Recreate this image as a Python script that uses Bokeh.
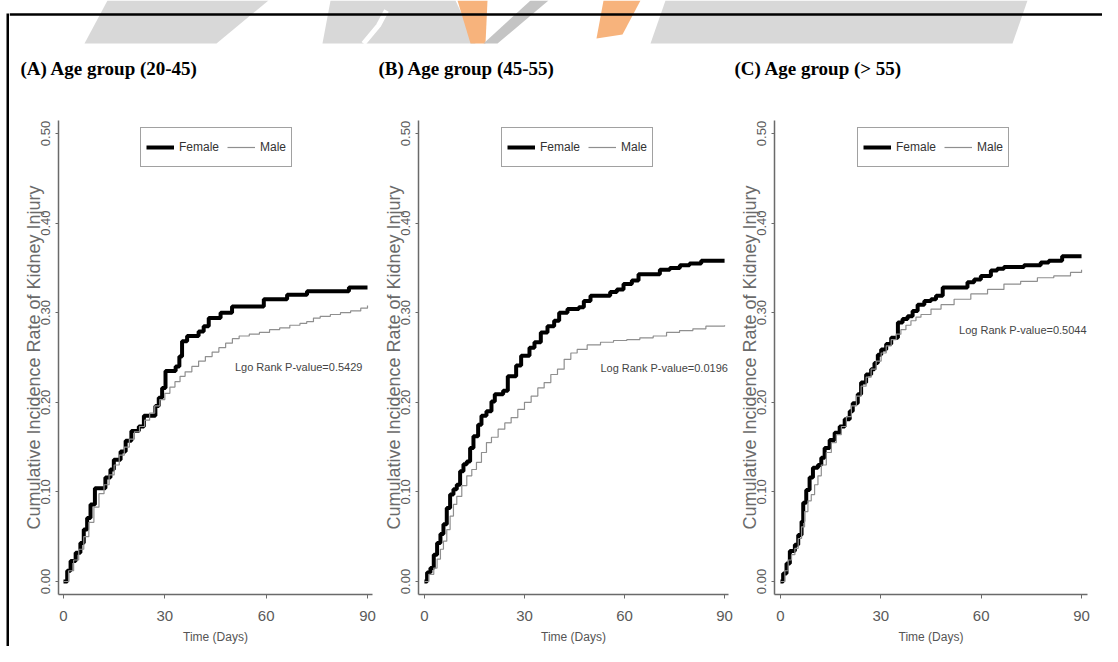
from bokeh.plotting import figure
from bokeh.layouts import row, column
from bokeh.models import (Range1d, FixedTicker, Legend, LegendItem,
                          NumeralTickFormatter, Label, Spacer)
from bokeh.core.properties import value
from bokeh.embed import file_html
from bokeh.resources import INLINE

# ---------------- data ----------------
titles = ["(A) Age group (20-45)", "(B) Age group (45-55)", "(C) Age group (> 55)"]
pvalue_labels = ["Lgo Rank P-value=0.5429", "Log Rank P-value=0.0196",
                 "Log Rank P-value=0.5044"]
series_names = ["Female", "Male"]
x_label = "Time (Days)"
y_label = "Cumulative Incidence Rate of Kidney Injury"
x_ticks = [0, 30, 60, 90]
y_ticks = [0.0, 0.1, 0.2, 0.3, 0.4, 0.5]

a_female_days = [0, 1.1, 2.1, 3.6, 5.0, 6.0, 7.0, 8.0, 9.3, 12.4,
                 13.9, 14.9, 16.9, 18.4, 20.1, 22.3, 23.8, 27.2, 28.2, 29.2,
                 30.2, 33.2, 34.3, 35.1, 36.6, 40.0, 41.5, 43.0, 46.5, 49.9,
                 59.3, 66.2, 72.1, 84.5, 90]
a_female_vals = [0, .012, .023, .032, .043, .058, .071, .086, .104, .116,
                 .125, .136, .145, .157, .168, .173, .185, .196, .205, .216,
                 .235, .240, .251, .268, .274, .279, .285, .294, .300, .307,
                 .315, .320, .324, .328, .328]
a_male_days = [0, 1.5, 3, 4.5, 6, 7.5, 9, 10.5, 12, 13.5,
               15, 16.5, 18, 19.5, 21, 22.5, 24, 25.5, 27, 28.5,
               30, 31.5, 33, 34.5, 36, 38, 40, 42, 44, 46,
               48, 50, 52, 55, 58, 61, 64, 67, 70, 72,
               74, 76, 79, 82, 85, 88, 90]
a_male_vals = [0, .012, .024, .036, .05, .066, .083, .098, .108, .119,
               .13, .141, .15, .159, .167, .173, .18, .188, .196, .203,
               .21, .217, .223, .229, .234, .24, .246, .251, .256, .261,
               .266, .271, .274, .276, .278, .281, .283, .286, .288, .29,
               .294, .296, .298, .3, .302, .305, .308]

b_female_days = [0, 0.8, 1.8, 2.8, 3.8, 4.8, 5.7, 6.7, 7.7, 8.7,
                 9.7, 10.7, 11.7, 12.7, 13.7, 14.7, 16.1, 17.1, 18.6, 20.1,
                 21.1, 23.6, 25.0, 27.5, 29.0, 31.5, 33.0, 34.9, 36.9, 38.9,
                 40.4, 42.9, 46.3, 47.8, 49.8, 55.7, 57.7, 59.7, 62.2, 64.2,
                 70.6, 73.6, 76.6, 79.5, 83.0, 90]
b_female_vals = [0, .010, .015, .030, .043, .053, .064, .082, .097, .103,
                 .108, .123, .131, .134, .149, .162, .175, .185, .190, .201,
                 .209, .213, .229, .241, .252, .261, .267, .278, .285, .291,
                 .300, .304, .306, .313, .319, .323, .326, .332, .336, .343,
                 .348, .350, .353, .355, .358, .358]
b_male_days = [0, 1.3, 2.8, 3.8, 4.8, 5.7, 6.7, 7.7, 8.7, 9.7,
               11.2, 12.7, 14.2, 15.6, 17.1, 18.6, 20.1, 22.1, 24.1, 26.0,
               28.0, 30.0, 32.0, 34.0, 35.9, 37.9, 39.9, 41.9, 43.9, 45.8,
               48.8, 52.8, 56.7, 60.7, 64.6, 68.6, 72.6, 76.5, 80.5, 84.4, 90]
b_male_vals = [0, .008, .015, .025, .036, .045, .058, .073, .086, .095,
               .107, .118, .125, .133, .144, .155, .161, .170, .177, .183,
               .192, .200, .207, .216, .222, .231, .237, .248, .255, .259,
               .264, .267, .269, .270, .272, .274, .278, .280, .282, .285, .286]

c_female_days = [0, 0.8, 1.8, 2.8, 4.3, 5.3, 6.3, 6.8, 7.7, 8.7,
                 9.7, 11.2, 12.2, 13.2, 14.7, 16.2, 17.7, 19.2, 20.7, 21.6,
                 23.1, 24.1, 25.6, 27.1, 28.1, 29.1, 30.1, 31.6, 33.1, 35.1,
                 36.5, 38.0, 39.5, 41.0, 43.0, 45.0, 46.5, 48.5, 55.9, 57.9,
                 59.9, 62.9, 64.8, 66.8, 72.8, 77.8, 80.2, 84.2, 90]
c_female_vals = [0, .009, .020, .034, .041, .052, .067, .088, .102, .116,
                 .127, .130, .138, .149, .158, .166, .173, .181, .190, .199,
                 .209, .222, .231, .237, .244, .253, .259, .265, .272, .289,
                 .293, .296, .302, .309, .313, .315, .319, .328, .334, .337,
                 .341, .347, .349, .351, .353, .356, .358, .363, .363]
c_male_days = [0, 1.3, 2.3, 3.3, 4.3, 5.3, 6.3, 7.2, 8.2, 9.2,
               10.2, 11.2, 12.2, 13.7, 15.2, 16.7, 18.2, 19.7, 21.2, 22.7,
               24.1, 25.6, 27.1, 28.6, 30.1, 31.6, 33.1, 34.6, 36.0, 37.5,
               39.0, 40.5, 42.0, 45.0, 48.0, 51.9, 56.9, 61.9, 66.8, 71.8,
               76.8, 81.7, 86.7, 90]
c_male_vals = [0, .012, .024, .030, .037, .048, .061, .078, .090, .097,
               .108, .118, .130, .144, .155, .164, .173, .184, .196, .207,
               .218, .228, .237, .246, .255, .263, .270, .276, .281, .286,
               .291, .295, .298, .304, .309, .315, .321, .326, .332, .335,
               .339, .341, .345, .348]

# ---------------- styling helpers ----------------
SANS = "Liberation Sans"
PANEL_H = 546


def make_panel(width, bl, br, xr, fd, fv, md, mv, ptext, px, py, lx):
    p = figure(width=width, height=PANEL_H, x_range=Range1d(*xr),
               y_range=Range1d(-0.0145, 0.5145), output_backend="svg",
               toolbar_location=None, min_border_left=bl, min_border_right=br,
               min_border_top=20, min_border_bottom=51)
    p.xgrid.visible = False
    p.ygrid.visible = False
    p.outline_line_color = None
    p.background_fill_color = "white"
    p.border_fill_color = "white"

    fem = p.step(fd, fv, mode="after", line_width=4, line_color="black")
    mal = p.step(md, mv, mode="after", line_width=1.2, line_color="#8f8f8f")

    for ax in (p.xaxis[0], p.yaxis[0]):
        ax.axis_line_color = "#6a6a6a"
        ax.axis_line_width = 1.5
        ax.major_tick_line_color = "#6a6a6a"
        ax.minor_tick_line_color = None
        ax.major_tick_in = 0
        ax.major_label_text_font = SANS
        ax.axis_label_text_font = SANS
        ax.axis_label_text_font_style = "normal"
        ax.major_label_text_color = "#5a5a5a"
        ax.axis_label_text_color = "#555555"

    xa = p.xaxis[0]
    xa.ticker = FixedTicker(ticks=x_ticks)
    xa.major_tick_out = 4
    xa.major_label_standoff = 12
    xa.major_label_text_font_size = "15px"
    xa.axis_label = x_label
    xa.axis_label_text_font_size = "12px"
    xa.axis_label_standoff = 6

    ya = p.yaxis[0]
    ya.ticker = FixedTicker(ticks=y_ticks)
    ya.formatter = NumeralTickFormatter(format="0.00")
    ya.major_label_orientation = "vertical"
    ya.major_label_text_font_size = "13px"
    ya.major_tick_out = 3
    ya.major_label_standoff = 5
    ya.axis_label = y_label
    ya.axis_label_text_font_size = "18px"
    ya.axis_label_standoff = -5
    ya.axis_label_text_color = "#6a6a6a"

    legend = Legend(items=[LegendItem(label=series_names[0], renderers=[fem]),
                           LegendItem(label=series_names[1], renderers=[mal])],
                    location=(lx, 427), orientation="horizontal",
                    glyph_width=28, glyph_height=20, label_height=28,
                    padding=5, spacing=8, label_standoff=5, margin=0,
                    border_line_color="#444444", border_line_width=1,
                    label_text_font=SANS, label_text_font_size="12px",
                    label_text_color="#333333", background_fill_alpha=1)
    p.add_layout(legend)

    p.add_layout(Label(x=px, y=py, text=ptext, text_align="right",
                       text_baseline="middle", text_font=SANS,
                       text_font_size="11px", text_color="#444444"))
    return p


pa = make_panel(371, 49, 8, (-1.48, 91.48), a_female_days, a_female_vals,
                a_male_days, a_male_vals, pvalue_labels[0], 88.5, 0.2394, 82)
pb = make_panel(356, 35, 8, (-1.78, 91.18), b_female_days, b_female_vals,
                b_male_days, b_male_vals, pvalue_labels[1], 91.0, 0.2383, 83)
pc = make_panel(366, 37, 15, (-1.79, 91.78), c_female_days, c_female_vals,
                c_male_days, c_male_vals, pvalue_labels[2], 91.5, 0.2806, 83)

# ---------------- header (watermark band, frame line, titles) ----------------
hdr = figure(width=1093, height=100, x_range=Range1d(9, 1102),
             y_range=Range1d(100, 0), output_backend="svg",
             toolbar_location=None, min_border=0,
             x_axis_location=None, y_axis_location=None)
hdr.xgrid.visible = False
hdr.ygrid.visible = False
hdr.outline_line_color = None

wm_gray_xs = [[107, 268, 216, 84], [330, 455, 475, 322], [665, 1027, 1012, 650]]
wm_gray_ys = [[0, 0, 43, 43], [0, 0, 43, 43], [0, 0, 43, 43]]
hdr.patches(wm_gray_xs, wm_gray_ys, fill_color="#d8d8d8", line_color=None)
hdr.line([386, 378, 363], [10, 25, 43], line_color="white", line_width=5)
hdr.patches([[457, 487, 485, 470], [603, 640, 622, 596]],
            [[0, 0, 43, 43], [0, 0, 34, 38]],
            fill_color="#f7b37c", line_color=None)
hdr.patches([[530, 548, 497, 483]], [[0, 0, 43, 43]],
            fill_color="#c4c4c4", line_color=None)
hdr.line([9, 1102], [14, 14], line_color="black", line_width=2.5)

hdr.text(x=[20, 378, 734], y=[68, 68, 68], text=titles,
         text_font=value("Liberation Serif"), text_font_style="bold",
         text_font_size="19px", text_color="black", text_align="left",
         text_baseline="middle")

# left frame line of the boxed figure
strip = figure(width=3, height=633, output_backend="svg", toolbar_location=None,
               min_border=0, x_axis_location=None, y_axis_location=None,
               background_fill_color="black", border_fill_color="black",
               outline_line_color=None)
strip.xgrid.visible = False
strip.ygrid.visible = False

layout = row(Spacer(width=6, height=646),
             column(Spacer(width=3, height=13), strip),
             column(hdr, row(pa, pb, pc)))
open("out.html", "w").write(file_html(layout, INLINE))
